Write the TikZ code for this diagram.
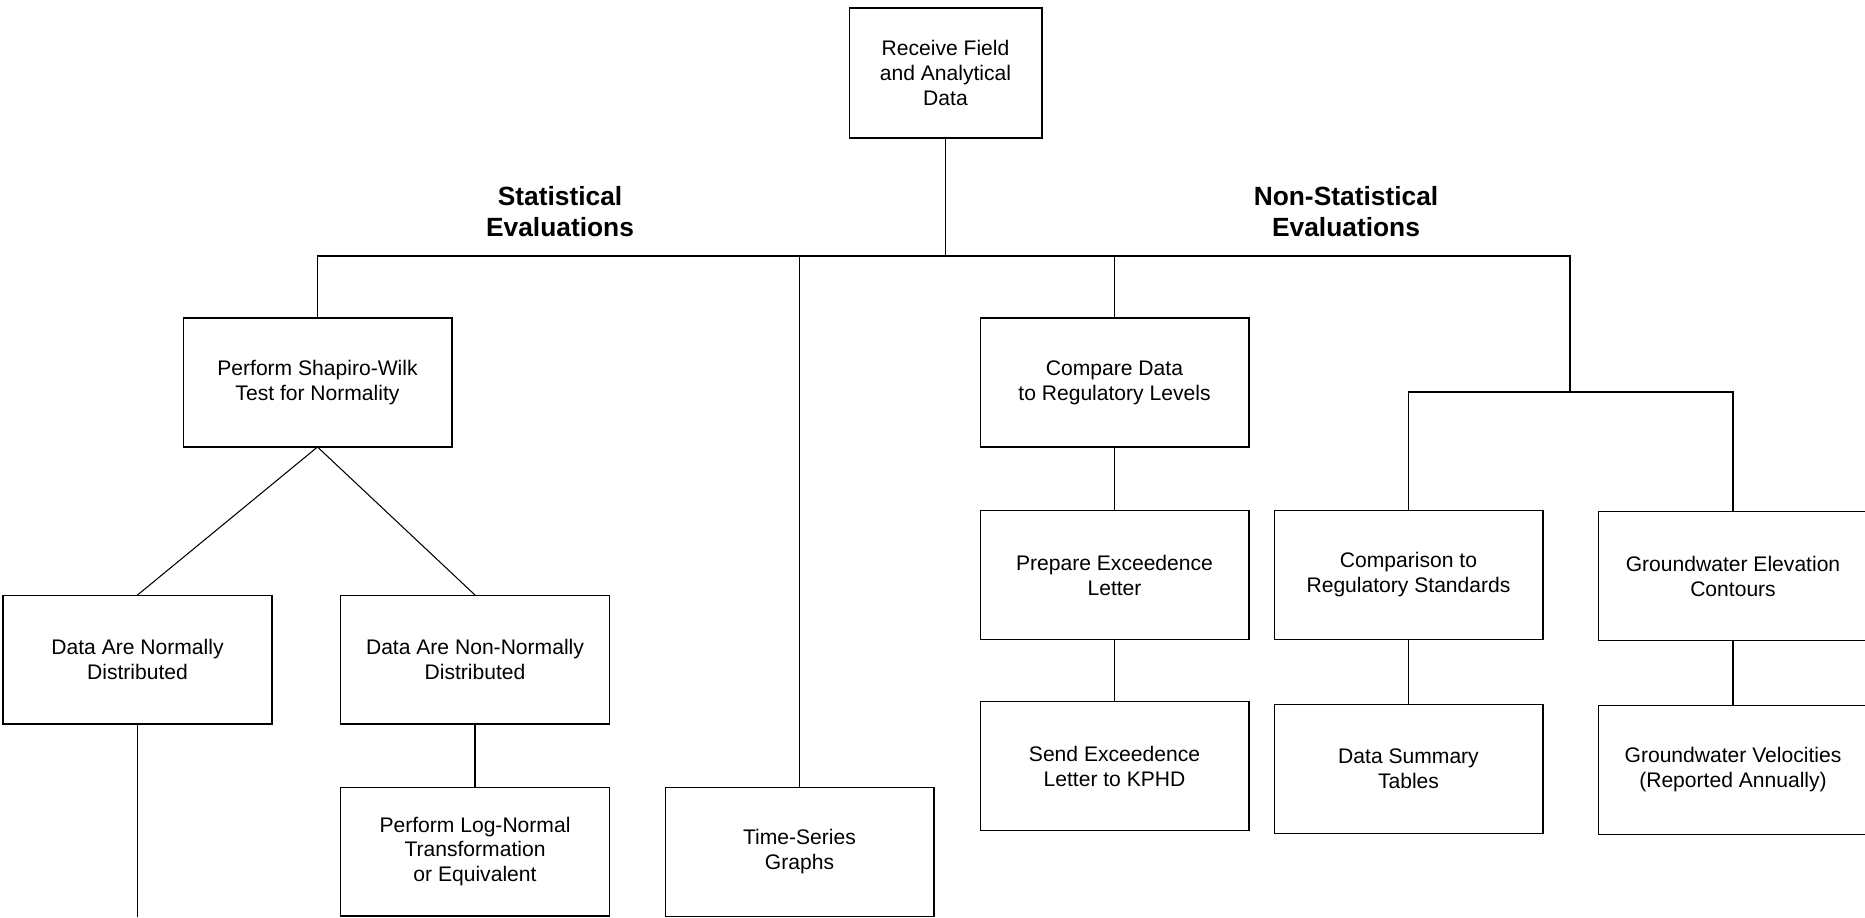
\documentclass[tikz,border=0pt]{standalone}
\usepackage{fontspec}
\setmainfont{Liberation Sans}
\usetikzlibrary{positioning}

\begin{document}
\begin{tikzpicture}[
x=0.02cm, y=-0.02cm,
box/.style={
    draw,
    minimum width=5.38cm,
    minimum height=2.58cm,
    inner sep=4pt,
    outer sep=0pt,
    align=center,
    font=\fontsize{12}{14.2}\selectfont
},
heading/.style={
    align=center,
    font=\fontsize{15}{17.6}\selectfont\bfseries
},
line width=0.6pt
]
\useasboundingbox (0,0) rectangle (1865,917);
\clip (0,0) rectangle (1865,917);

\node (receive) [box, minimum width=3.86cm, minimum height=2.6cm] at (945.5,73)
{Receive Field\\and Analytical\\Data};

\node (stats) [heading] at (560,211.5) {Statistical\\Evaluations};
\node (nonstats) [heading] at (1346,211.5) {Non-Statistical\\Evaluations};

\coordinate (bus) at (945.5,256);
\coordinate (busR) at (1570,256);
\coordinate (subbus) at (1570,392);
\coordinate (bottom) at (0,917);

% statistical side
\node (shapiro) [box] at (317.5,382.5) {Perform Shapiro-Wilk\\Test for Normality};
\node (normal) [box] at (137.5,659.5) {Data Are Normally\\Distributed};
\node (nonnormal) [box] at (475,659.5) {Data Are Non-Normally\\Distributed};
\node (lognormal) [box] at (475,851.5) {Perform Log-Normal\\Transformation\\or Equivalent};
\node (timeseries) [box] at (799.5,852) {Time-Series\\Graphs};

% non-statistical side
\node (compare) [box] at (1114.5,382.5) {Compare Data\\to Regulatory Levels};
\node (prepare) [box] at (1114.5,575) {Prepare Exceedence\\Letter};
\node (send) [box] at (1114.5,766) {Send Exceedence\\Letter to KPHD};
\node (comparison) [box] at (1408.5,575) {Comparison to\\Regulatory Standards};
\node (summary) [box] at (1408.5,769) {Data Summary\\Tables};
\node (gwelev) [box] at (1733,576) {Groundwater Elevation\\Contours};
\node (gwvel) [box] at (1733,770) {Groundwater Velocities\\(Reported Annually)};

\draw (receive.south)--(bus);
\draw (shapiro.north) |- (busR)--(subbus);
\draw (timeseries.north)--(timeseries.north |- bus);
\draw (compare.north)--(compare.north |- bus);
\draw (comparison.north) |- (subbus) -| (gwelev.north);

\draw (shapiro.south)--(normal.north);
\draw (shapiro.south)--(nonnormal.north);
\draw (nonnormal)--(lognormal);
\draw (normal.south)--(normal.south |- bottom);

\draw (compare)--(prepare);
\draw (prepare)--(send);
\draw (comparison)--(summary);
\draw (gwelev)--(gwvel);

\end{tikzpicture}
\end{document}
